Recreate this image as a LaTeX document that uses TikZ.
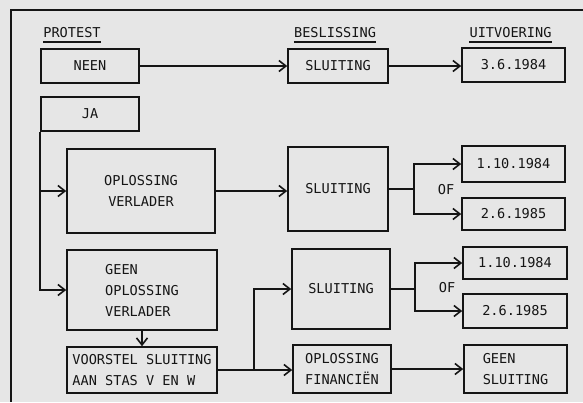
\documentclass[tikz,border=0pt]{standalone}
\usepackage{fontspec}
\usepackage{tikz}
\usetikzlibrary{arrows.meta, positioning, calc}
\newfontfamily\drukfont{DejaVu Sans Mono}
\definecolor{papier}{HTML}{E6E6E6}
\definecolor{inkt}{HTML}{151515}

\begin{document}
\begin{tikzpicture}[
    x=1pt, y=-1pt,
    block/.style={rectangle, draw=inkt, line width=1.6pt, inner sep=2pt, align=center, text=inkt, font=\drukfont\fontsize{13.6pt}{21pt}\selectfont},
    kop/.style={inner xsep=0pt, inner ysep=4pt, text height=9.9pt, text depth=0pt, text=inkt, font=\drukfont\fontsize{13.6pt}{21pt}\selectfont},
    arr/.style={line width=1.6pt, draw=inkt, -{Straight Barb[length=7pt, width=11pt]}},
    lijn/.style={line width=1.6pt, draw=inkt}
]
% Paper
\fill[papier] (0,0) rectangle (583,402);
\useasboundingbox (0,0) rectangle (583,402);
\coordinate (hoek) at (11,10);
\draw[lijn] (583,10) -- (hoek) -- (11,402);

% Headings
\node[kop] (protest) at (72,33) {PROTEST};
\node[kop] (beslissing) at (335,33) {BESLISSING};
\node[kop] (uitvoering) at (510.5,33) {UITVOERING};
\foreach \k in {protest, beslissing, uitvoering}
    \draw[lijn] (\k.south west) -- (\k.south east);

% Protest column
\node[block, minimum width=98pt, minimum height=34pt] (neen) at (90,66) {NEEN};
\node[block, minimum width=98pt, minimum height=34pt] (ja) at (90,114) {JA};
\node[block, minimum width=148pt, minimum height=84pt] (oplver) at (141,191) {OPLOSSING\\VERLADER};
\node[block, align=left, minimum width=150pt, minimum height=80pt] (geenopl) at (142,290) {GEEN\\OPLOSSING\\VERLADER};
\node[block, align=left, minimum width=150pt, minimum height=46pt] (voorstel) at (142,370) {VOORSTEL SLUITING\\AAN STAS V EN W};

% Beslissing column
\node[block, minimum width=100pt, minimum height=34pt] (sluit1) at (338,66) {SLUITING};
\node[block, minimum width=100pt, minimum height=84pt] (sluit2) at (338,189) {SLUITING};
\node[block, minimum width=98pt, minimum height=80pt] (sluit3) at (341,289) {SLUITING};
\node[block, align=left, minimum width=98pt, minimum height=48pt] (oplfin) at (342,369) {OPLOSSING\\FINANCIËN};

% Uitvoering column
\node[block, minimum width=103pt, minimum height=34pt] (datum1) at (513.5,65) {3.6.1984};
\node[block, minimum width=103pt, minimum height=36pt] (datum2a) at (513.5,164) {1.10.1984};
\node[block, minimum width=103pt, minimum height=32pt] (datum2b) at (513.5,214) {2.6.1985};
\node[block, minimum width=104pt, minimum height=32pt] (datum3a) at (515,263) {1.10.1984};
\node[block, minimum width=104pt, minimum height=34pt] (datum3b) at (515,311) {2.6.1985};
\node[block, align=left, minimum width=103pt, minimum height=48pt] (geensl) at (515.5,369) {GEEN\\SLUITING};

% OF labels
\node[kop] (of2) at (446,190) {OF};
\node[kop] (of3) at (447,288) {OF};

% Connectors
\draw[arr] (neen) -- (sluit1.west |- neen);
\draw[arr] (sluit1) -- (datum1.west |- sluit1);
\draw[arr] (ja.south west) |- (geenopl.west);
\draw[arr] (ja.south west |- oplver.west) -- (oplver.west);
\draw[arr] (oplver) -- (sluit2.west |- oplver);
\draw[arr] (geenopl.south) -- (geenopl.south |- voorstel.north);
\draw[arr] (voorstel.east) -- (oplfin.west |- voorstel.east);
\draw[arr] (voorstel.east) -- ++(36,0) coordinate (tak1) |- (sluit3.west);
\draw[lijn] (sluit2.east) -- ++(25,0) coordinate (tak2);
\draw[arr] (tak2) |- (datum2a.west);
\draw[arr] (tak2) |- (datum2b.west);
\draw[lijn] (sluit3.east) -- ++(24,0) coordinate (tak3);
\draw[arr] (tak3) |- (datum3a.west);
\draw[arr] (tak3) |- (datum3b.west);
\draw[arr] (oplfin) -- (geensl.west |- oplfin);
\end{tikzpicture}
\end{document}
